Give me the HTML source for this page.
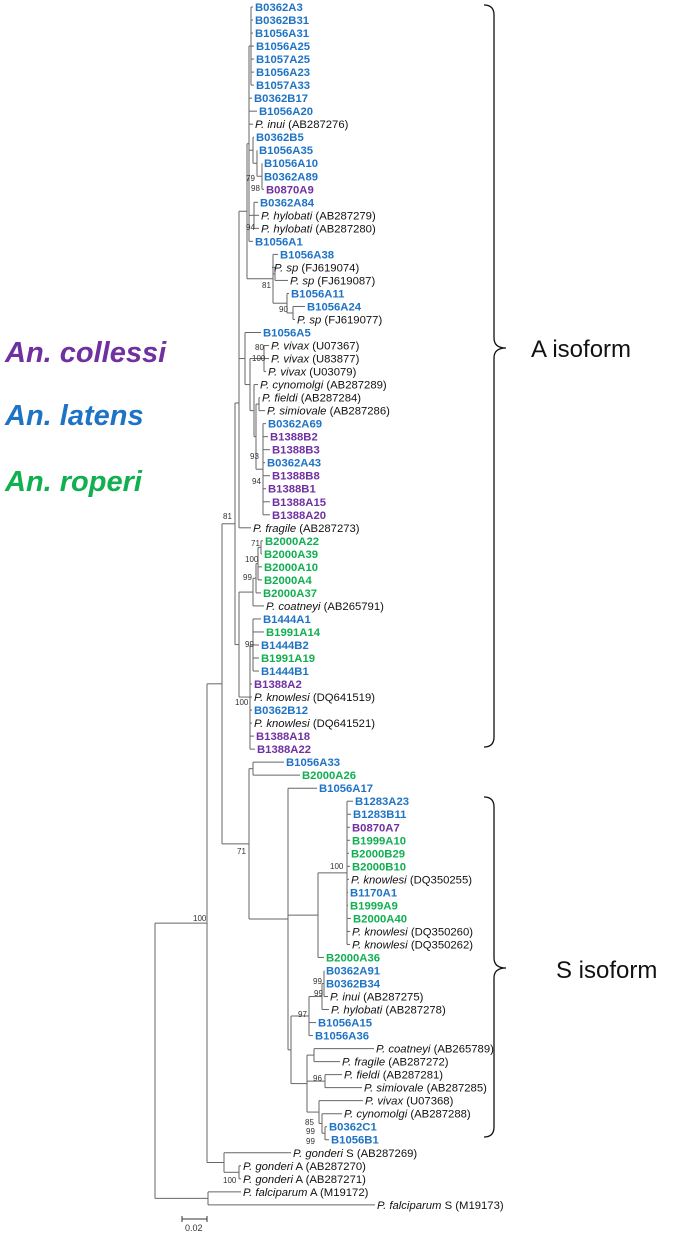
<!DOCTYPE html>
<html><head><meta charset="utf-8"><style>
html,body{margin:0;padding:0;background:#fff;}
svg{display:block;}
text{font-family:"Liberation Sans",sans-serif;font-size:11.3px;fill:#111;}
.b{fill:#1f73c5;font-weight:bold;font-size:11.3px;}
.p{fill:#7030a0;font-weight:bold;font-size:11.3px;}
.g{fill:#10b050;font-weight:bold;font-size:11.3px;}
.bs{font-size:8px;fill:#333;}
.lg{font-size:29px;font-weight:bold;font-style:italic;}
</style></head><body>
<svg id="s" width="685" height="1235" viewBox="0 0 685 1235" xmlns="http://www.w3.org/2000/svg">
<g id="lines" stroke="#666" stroke-width="1" fill="none"></g>
<g id="leaves">
<text x="255" class="b">B0362A3</text>
<text x="255" class="b">B0362B31</text>
<text x="255" class="b">B1056A31</text>
<text x="256" class="b">B1056A25</text>
<text x="256" class="b">B1057A25</text>
<text x="256" class="b">B1056A23</text>
<text x="256" class="b">B1057A33</text>
<text x="254" class="b">B0362B17</text>
<text x="259" class="b">B1056A20</text>
<text x="255"><tspan font-style="italic">P. inui</tspan> (AB287276)</text>
<text x="256" class="b">B0362B5</text>
<text x="259" class="b">B1056A35</text>
<text x="264" class="b">B1056A10</text>
<text x="264" class="b">B0362A89</text>
<text x="266" class="p">B0870A9</text>
<text x="260" class="b">B0362A84</text>
<text x="261"><tspan font-style="italic">P. hylobati</tspan> (AB287279)</text>
<text x="261"><tspan font-style="italic">P. hylobati</tspan> (AB287280)</text>
<text x="255" class="b">B1056A1</text>
<text x="280" class="b">B1056A38</text>
<text x="274"><tspan font-style="italic">P. sp</tspan> (FJ619074)</text>
<text x="290"><tspan font-style="italic">P. sp</tspan> (FJ619087)</text>
<text x="291" class="b">B1056A11</text>
<text x="307" class="b">B1056A24</text>
<text x="297"><tspan font-style="italic">P. sp</tspan> (FJ619077)</text>
<text x="263" class="b">B1056A5</text>
<text x="271"><tspan font-style="italic">P. vivax</tspan>  (U07367)</text>
<text x="271"><tspan font-style="italic">P. vivax</tspan> (U83877)</text>
<text x="268"><tspan font-style="italic">P. vivax</tspan> (U03079)</text>
<text x="260"><tspan font-style="italic">P. cynomolgi</tspan> (AB287289)</text>
<text x="262"><tspan font-style="italic">P. fieldi</tspan> (AB287284)</text>
<text x="267"><tspan font-style="italic">P. simiovale</tspan> (AB287286)</text>
<text x="268" class="b">B0362A69</text>
<text x="270" class="p">B1388B2</text>
<text x="272" class="p">B1388B3</text>
<text x="267" class="b">B0362A43</text>
<text x="272" class="p">B1388B8</text>
<text x="268" class="p">B1388B1</text>
<text x="272" class="p">B1388A15</text>
<text x="272" class="p">B1388A20</text>
<text x="253"><tspan font-style="italic">P. fragile</tspan> (AB287273)</text>
<text x="265" class="g">B2000A22</text>
<text x="264" class="g">B2000A39</text>
<text x="264" class="g">B2000A10</text>
<text x="264" class="g">B2000A4</text>
<text x="263" class="g">B2000A37</text>
<text x="266"><tspan font-style="italic">P. coatneyi</tspan> (AB265791)</text>
<text x="263" class="b">B1444A1</text>
<text x="266" class="g">B1991A14</text>
<text x="261" class="b">B1444B2</text>
<text x="261" class="g">B1991A19</text>
<text x="261" class="b">B1444B1</text>
<text x="254" class="p">B1388A2</text>
<text x="254"><tspan font-style="italic">P. knowlesi</tspan> (DQ641519)</text>
<text x="254" class="b">B0362B12</text>
<text x="254"><tspan font-style="italic">P. knowlesi</tspan> (DQ641521)</text>
<text x="256" class="p">B1388A18</text>
<text x="257" class="p">B1388A22</text>
<text x="286" class="b">B1056A33</text>
<text x="302" class="g">B2000A26</text>
<text x="319" class="b">B1056A17</text>
<text x="355" class="b">B1283A23</text>
<text x="353" class="b">B1283B11</text>
<text x="352" class="p">B0870A7</text>
<text x="352" class="g">B1999A10</text>
<text x="351" class="g">B2000B29</text>
<text x="352" class="g">B2000B10</text>
<text x="351"><tspan font-style="italic">P. knowlesi</tspan> (DQ350255)</text>
<text x="350" class="b">B1170A1</text>
<text x="350" class="g">B1999A9</text>
<text x="353" class="g">B2000A40</text>
<text x="352"><tspan font-style="italic">P. knowlesi</tspan> (DQ350260)</text>
<text x="352"><tspan font-style="italic">P. knowlesi</tspan> (DQ350262)</text>
<text x="326" class="g">B2000A36</text>
<text x="326" class="b">B0362A91</text>
<text x="326" class="b">B0362B34</text>
<text x="330"><tspan font-style="italic">P. inui</tspan> (AB287275)</text>
<text x="331"><tspan font-style="italic">P. hylobati</tspan> (AB287278)</text>
<text x="318" class="b">B1056A15</text>
<text x="315" class="b">B1056A36</text>
<text x="376"><tspan font-style="italic">P. coatneyi</tspan> (AB265789)</text>
<text x="342"><tspan font-style="italic">P. fragile</tspan> (AB287272)</text>
<text x="344"><tspan font-style="italic">P. fieldi</tspan> (AB287281)</text>
<text x="364"><tspan font-style="italic">P. simiovale</tspan> (AB287285)</text>
<text x="365"><tspan font-style="italic">P. vivax</tspan> (U07368)</text>
<text x="344"><tspan font-style="italic">P. cynomolgi</tspan> (AB287288)</text>
<text x="329" class="b">B0362C1</text>
<text x="331" class="b">B1056B1</text>
<text x="293"><tspan font-style="italic">P. gonderi</tspan> S (AB287269)</text>
<text x="243"><tspan font-style="italic">P. gonderi</tspan> A (AB287270)</text>
<text x="243"><tspan font-style="italic">P. gonderi</tspan> A (AB287271)</text>
<text x="243"><tspan font-style="italic">P. falciparum</tspan> A (M19172)</text>
<text x="377"><tspan font-style="italic">P. falciparum</tspan> S (M19173)</text>
</g>
<g>
<text class="bs" x="246" y="181">79</text>
<text class="bs" x="251" y="191">98</text>
<text class="bs" x="246" y="230">94</text>
<text class="bs" x="262" y="288">81</text>
<text class="bs" x="279" y="312">90</text>
<text class="bs" x="255" y="350">80</text>
<text class="bs" x="252" y="361">100</text>
<text class="bs" x="250" y="459">93</text>
<text class="bs" x="252" y="484">94</text>
<text class="bs" x="223" y="519">81</text>
<text class="bs" x="251" y="546">71</text>
<text class="bs" x="245" y="562">100</text>
<text class="bs" x="243" y="580">99</text>
<text class="bs" x="245" y="647">99</text>
<text class="bs" x="235" y="705">100</text>
<text class="bs" x="237" y="854">71</text>
<text class="bs" x="330" y="869">100</text>
<text class="bs" x="313" y="984">99</text>
<text class="bs" x="314" y="996">99</text>
<text class="bs" x="298" y="1017">97</text>
<text class="bs" x="313" y="1081">96</text>
<text class="bs" x="305" y="1125">85</text>
<text class="bs" x="306" y="1134">99</text>
<text class="bs" x="306" y="1144">99</text>
<text class="bs" x="193" y="921">100</text>
<text class="bs" x="223" y="1183">100</text>
</g>
<path d="M484,5 Q494,5 494,15 L494,338 Q494,348 506,348 Q494,348 494,358 L494,737 Q494,747 484,747" stroke="#111" stroke-width="1.3" fill="none"/>
<path d="M484,797 Q494,797 494,807 L494,958 Q494,968 506,968 Q494,968 494,978 L494,1127 Q494,1137 484,1137" stroke="#111" stroke-width="1.3" fill="none"/>
<text x="531" y="357" style="font-size:24px">A isoform</text>
<text x="556" y="978" style="font-size:24px">S isoform</text>
<text class="lg" x="5" y="362" style="fill:#7030a0">An. collessi</text>
<text class="lg" x="5" y="425" style="fill:#1f73c5">An. latens</text>
<text class="lg" x="5" y="491" style="fill:#10b050">An. roperi</text>
<path d="M182,1219 L207,1219 M182,1216 L182,1222 M207,1216 L207,1222" stroke="#333" stroke-width="1"/>
<text class="bs" x="185" y="1231" style="font-size:9px">0.02</text>
</svg>
<script>
(function(){
var ns="http://www.w3.org/2000/svg";
function Y(i){return 7+13.02*(i-1);}
var texts=document.querySelectorAll('#leaves text');
var lx=[0];
for(var i=0;i<texts.length;i++){texts[i].setAttribute('y',(Y(i+1)+4).toFixed(1));lx.push(+texts[i].getAttribute('x'));}
var g=document.getElementById('lines');
function line(x1,y1,x2,y2){var l=document.createElementNS(ns,'line');l.setAttribute('x1',x1);l.setAttribute('y1',y1);l.setAttribute('x2',x2);l.setAttribute('y2',y2);g.appendChild(l);}
function N(x){return {x:x,c:Array.prototype.slice.call(arguments,1)};}
function R(a,b){var r=[];for(var i=a;i<=b;i++)r.push(i);return r;}
function NL(x,arr){return {x:x,c:arr};}
function lay(n){
 if(typeof n==='number') return Y(n);
 var ys=n.c.map(lay);
 var ny=(n.y!==undefined)?n.y:(ys[0]+ys[ys.length-1])/2;
 var mn=Math.min.apply(null,ys.concat([ny])),mx=Math.max.apply(null,ys.concat([ny]));
 line(n.x,mn,n.x,mx);
 n.c.forEach(function(c,i){var ex=(typeof c==='number')?lx[c]-2:c.x;line(n.x,ys[i],ex,ys[i]);});
 return ny;
}
var T=N(249,NL(251,R(1,7)),8,9,10,N(253,11,N(257,12,N(262,13,14,15))),N(254,16,17,18),19);
var N81=N(273,20,N(275,21,22),N(287,23,N(293,24,25)));
var U=N(247,T,N81);
var V=N(245,26,N(250,N(264,27,28,29),N(254,30,N(256,N(259,31,32),NL(263,R(33,40))))));
var P={x:239,c:[U,V,41],y:403};
var Q=N(239,N(253,N(256,N(258,N(261,42,43),44,45),46),47),NL(250,[NL(253,R(48,52))].concat(R(53,58))));
var NA=N(235,P,Q);
var NS=N(249,N(253,59,60),N(288,61,N(318,NL(347,R(62,73)),74),N(291,N(309,N(322,N(324,75,76,77),78),79,80),N(307,N(314,81,82),N(325,83,84),N(319,85,N(322,86,N(325,87,88)))))));
var I=N(207,N(222,NA,NS),N(224,89,N(239,90,91)));
var Rt=N(155,I,N(208,92,93));
lay(Rt);
})();
</script>
</body></html>
